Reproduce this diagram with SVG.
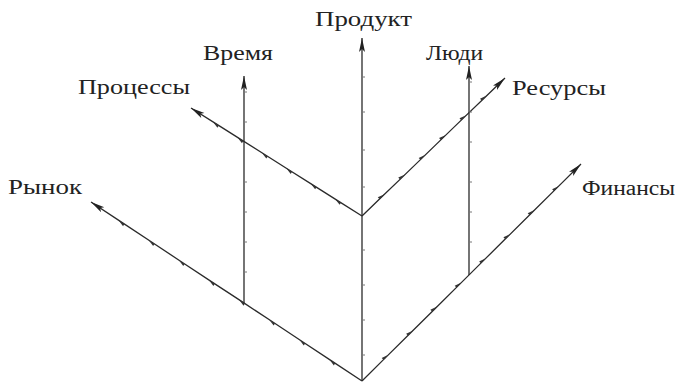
<svg xmlns="http://www.w3.org/2000/svg" width="680" height="386" viewBox="0 0 680 386">
<style>
.ax{fill:none;stroke:#2a2a2a;stroke-width:1.3;marker-end:url(#ah)}
.dg{marker-mid:url(#tk)}
.vt{stroke:#777;stroke-width:1}
.lb{font-family:"Liberation Serif","DejaVu Serif",serif;font-size:20px;fill:#222}
</style>
<defs>
<marker id="ah" markerUnits="userSpaceOnUse" markerWidth="16" markerHeight="8" refX="14" refY="3" orient="auto">
<path d="M0,0 L14,3 L0,6 L3,3 z" fill="#222"/>
</marker>
<marker id="tk" markerUnits="userSpaceOnUse" markerWidth="10" markerHeight="8" refX="5" refY="4" orient="auto">
<path d="M1,4 L8,4 L1,1.5 z" fill="#333"/>
</marker>
</defs>
<rect width="680" height="386" fill="#fff"/>
<g id="connectors">
<polyline class="ax dg" points="362,381 331.9,361.1 301.8,341.2 271.7,321.3 241.6,301.4 211.4,281.6 181.3,261.7 151.2,241.8 121.1,221.9 91,202"/>
<polyline class="ax dg" points="362,381 386.3,356.9 410.7,332.8 435,308.7 459.3,284.6 483.7,260.4 508,236.3 532.3,212.2 556.7,188.1 581,164"/>
<polyline class="ax dg" points="362,216 337.6,200.6 313.1,185.1 288.7,169.7 264.3,154.3 239.9,138.9 215.4,123.4 191,108"/>
<polyline class="ax dg" points="362,216 382.4,196.3 402.9,176.6 423.3,156.9 443.7,137.1 464.1,117.4 484.6,97.7 505,78"/>
<line class="ax" x1="362" y1="381" x2="362" y2="38"/>
<line class="ax" x1="244" y1="303" x2="244" y2="76"/>
<line class="ax" x1="469" y1="275" x2="469" y2="66"/>
<g class="vt">
<path d="M362,77h3M362,112h3M362,150h3M362,187h3M362,250h3M362,285h3M362,320h3M362,355h3"/>
<path d="M244,92h3M244,122h3M244,182h3M244,212h3M244,242h3M244,272h3"/>
<path d="M469,82h3M469,112h3M469,142h3M469,182h3M469,212h3M469,242h3"/>
</g>
</g>
<g id="product"><text class="lb" x="315" y="26" textLength="97" lengthAdjust="spacingAndGlyphs">Продукт</text></g>
<g id="time"><text class="lb" x="203" y="60" textLength="70" lengthAdjust="spacingAndGlyphs">Время</text></g>
<g id="people"><text class="lb" x="426" y="60" textLength="57" lengthAdjust="spacingAndGlyphs">Люди</text></g>
<g id="processes"><text class="lb" x="78" y="94" textLength="112" lengthAdjust="spacingAndGlyphs">Процессы</text></g>
<g id="resources"><text class="lb" x="512" y="95" textLength="94" lengthAdjust="spacingAndGlyphs">Ресурсы</text></g>
<g id="market"><text class="lb" x="8" y="194" textLength="74" lengthAdjust="spacingAndGlyphs">Рынок</text></g>
<g id="finance"><text class="lb" x="582" y="195" textLength="93" lengthAdjust="spacingAndGlyphs">Финансы</text></g>
</svg>
